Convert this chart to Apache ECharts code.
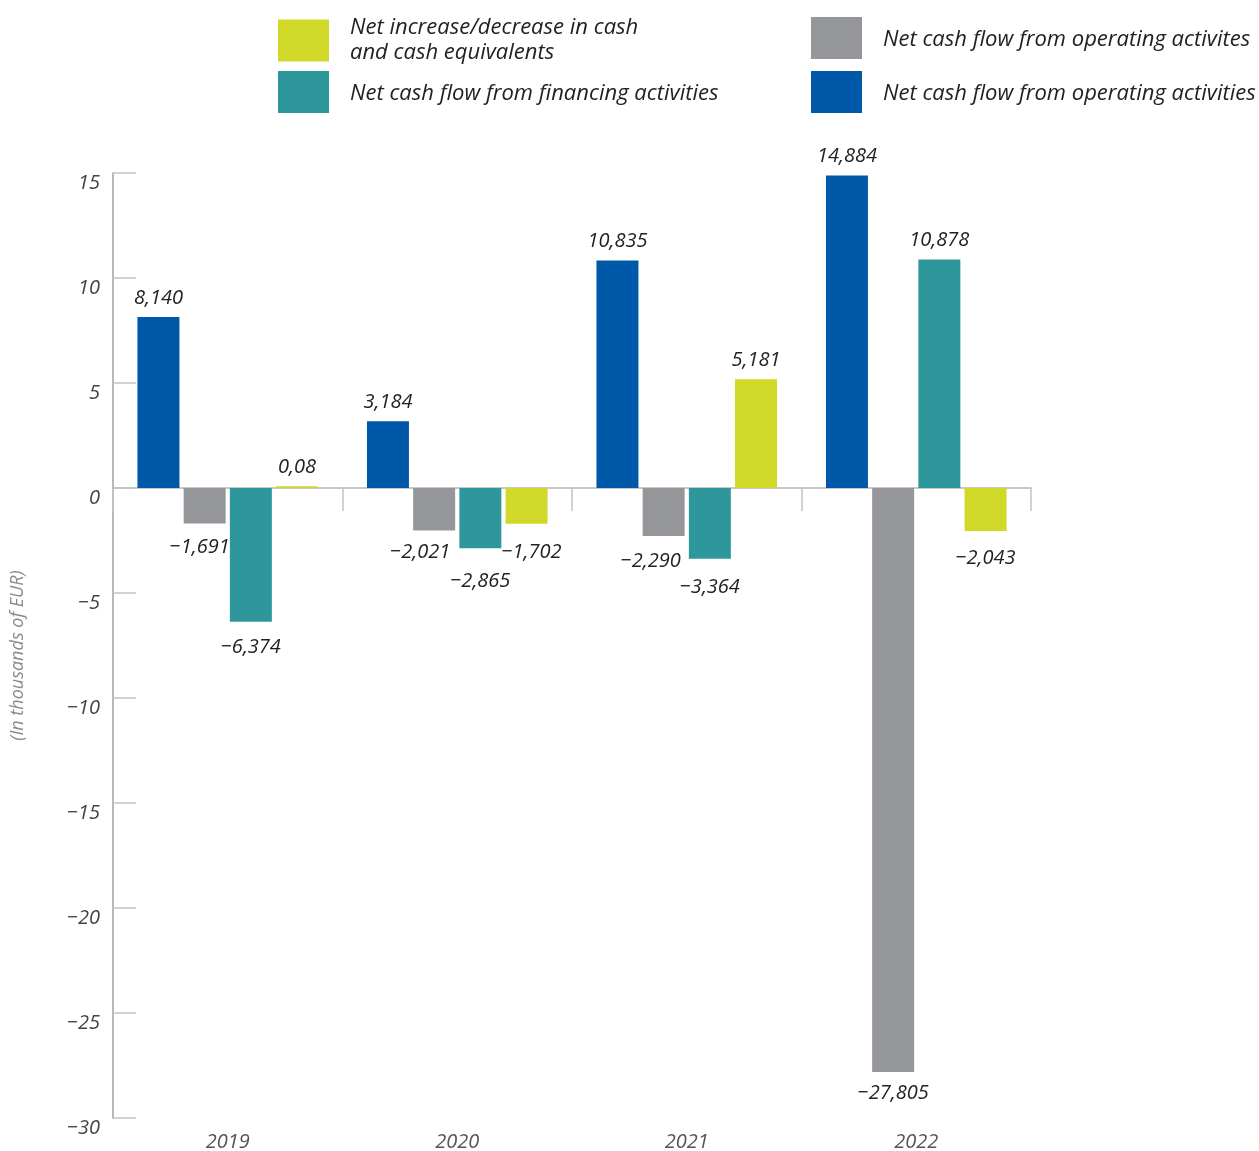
<!DOCTYPE html>
<html>
<head>
<meta charset="utf-8">
<script src="https://cdn.jsdelivr.net/npm/echarts@6/dist/echarts.min.js"></script>
<style>
  html, body { margin: 0; padding: 0; background: #fff; }
  #chart { width: 1259px; height: 1151px; }
</style>
</head>
<body>
<div id="chart"></div>
<script>
// Years on the category axis
const years = ['2019', '2020', '2021', '2022'];

// Series values as printed (comma is the decimal separator)
const operating = ['8,140', '3,184', '10,835', '14,884'];
const investing = ['-1,691', '-2,021', '-2,290', '-27,805'];
const financing = ['-6,374', '-2,865', '-3,364', '10,878'];
const netChange = ['0,08', '-1,702', '5,181', '-2,043'];

// Series names
const nameOperating = 'Net cash flow from operating activities';
const nameInvesting = 'Net cash flow from operating activites';
const nameFinancing = 'Net cash flow from financing activities';
const nameNetChange = 'Net increase/decrease in cash and cash equivalents';

// Value axis ticks
const yMin = -30, yMax = 15, yStep = 5;

const toNum = s => parseFloat(s.replace(',', '.'));
const minus = s => String(s).replace('-', '\u2212');

const FONT = 'Open Sans';
const TEXT = '#222';

// Small label nudges so neighbouring labels do not collide
const nudges = {
  investing: [[-5, -1], [-14, -3], [-13, 0], [0, -4]],
  financing: [[0, 0], [0, 8], [0, 4], [0, 0]],
  netChange: [[0, 0], [5, 4], [0, 0], [0, 2]]
};

function buildData(arr, nudge) {
  return arr.map((s, i) => {
    const v = toNum(s);
    const off = nudge ? nudge[i] : [0, 0];
    return {
      value: v,
      label: {
        position: v >= 0 ? 'top' : 'bottom',
        distance: v >= 0 ? 9 : 15,
        offset: off,
        formatter: () => minus(s)
      }
    };
  });
}

function barSeries(name, color, arr, nudge) {
  return {
    name: name,
    type: 'bar',
    xAxisIndex: 0,
    barWidth: 42,
    barGap: '10%',
    itemStyle: { color: color },
    label: {
      show: true,
      fontFamily: FONT,
      fontStyle: 'italic',
      fontSize: 20,
      color: TEXT
    },
    data: buildData(arr, nudge)
  };
}

function legendAt(name, left, top, twoLine) {
  return {
    left: left,
    top: top,
    padding: 0,
    itemWidth: 51,
    itemHeight: 42,
    icon: 'rect',
    selectedMode: false,
    data: [name],
    formatter: n => {
      const lines = twoLine ? ['Net increase/decrease in cash', 'and cash equivalents'] : [n];
      return lines.map(l => '{t|' + l + '}').join('\n');
    },
    textStyle: {
      rich: {
        t: {
          fontFamily: FONT,
          fontStyle: 'italic',
          fontSize: 22,
          lineHeight: 25,
          color: TEXT,
          padding: twoLine ? [0, 0, 0, 16] : [4, 0, 0, 16]
        }
      }
    }
  };
}

const chart = echarts.init(document.getElementById('chart'));
chart.setOption({
  animation: false,
  backgroundColor: '#fff',
  grid: { left: 113, right: 228, top: 173, bottom: 33, containLabel: false, outerBoundsMode: 'none' },
  legend: [
    legendAt(nameNetChange, 278, 17, true),
    legendAt(nameFinancing, 278, 71, false),
    legendAt(nameInvesting, 811, 17, false),
    legendAt(nameOperating, 811, 71, false)
  ],
  xAxis: [
    {
      type: 'category',
      data: years,
      axisLine: { onZero: true, lineStyle: { color: '#b5b5b5', width: 1.5 } },
      axisTick: { show: true, length: 23, lineStyle: { color: '#c4c4c4', width: 1.5 } },
      axisLabel: { show: false },
      splitLine: { show: false }
    },
    {
      type: 'category',
      data: years,
      position: 'bottom',
      axisLine: { show: false, onZero: false },
      axisTick: { show: false },
      axisLabel: {
        margin: 14,
        fontFamily: FONT,
        fontStyle: 'italic',
        fontSize: 20,
        color: '#555'
      }
    }
  ],
  yAxis: {
    type: 'value',
    min: yMin,
    max: yMax,
    interval: yStep,
    name: '(In thousands of EUR)',
    nameLocation: 'middle',
    nameGap: 86,
    nameTextStyle: {
      fontFamily: FONT,
      fontStyle: 'italic',
      fontSize: 18,
      color: '#8a8a8a',
      padding: [0, 20, 0, 0]
    },
    axisLine: { show: true, lineStyle: { color: '#a0a0a0', width: 1.5 } },
    axisTick: { show: true, inside: true, length: 23, lineStyle: { color: '#c4c4c4', width: 1.5 } },
    splitLine: { show: false },
    axisLabel: {
      margin: 13,
      fontFamily: FONT,
      fontStyle: 'italic',
      fontSize: 20,
      color: '#444',
      verticalAlign: 'top',
      lineHeight: 20,
      formatter: v => minus(v)
    }
  },
  series: [
    barSeries(nameOperating, '#0059A8', operating, null),
    barSeries(nameInvesting, '#95969A', investing, nudges.investing),
    barSeries(nameFinancing, '#2E979C', financing, nudges.financing),
    barSeries(nameNetChange, '#D0D928', netChange, nudges.netChange)
  ]
});
</script>
</body>
</html>
